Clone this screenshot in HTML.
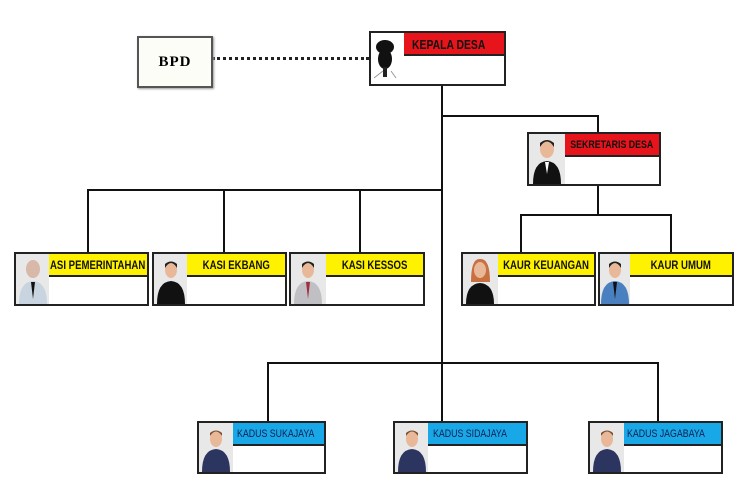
<!DOCTYPE html>
<html><head><meta charset="utf-8"><style>
body{margin:0;width:750px;height:500px;background:#fff;position:relative;overflow:hidden;font-family:"Liberation Sans",sans-serif}
.l{position:absolute;background:#111}
.b{position:absolute;border:2px solid #222;background:#fff;box-sizing:border-box}
.h{position:absolute;top:0;right:0;height:23px;border-bottom:2px solid #222;font-weight:bold;font-size:11px;line-height:23px;white-space:nowrap;overflow:hidden;box-sizing:border-box}
.h span{display:block;width:125%;margin-left:-12.5%;text-align:center;transform:scaleX(0.8);transform-origin:center}
.h.lft span{margin-left:0;text-align:left;transform-origin:left}
.a{position:absolute;left:0;top:0;bottom:0;background:#e8e8e8}
.a svg{display:block}
</style></head><body>
<div class="l" style="left:441px;top:85px;width:2px;height:336px"></div>
<div class="l" style="left:442px;top:115px;width:157px;height:2px"></div>
<div class="l" style="left:597px;top:115px;width:2px;height:18px"></div>
<div class="l" style="left:597px;top:185px;width:2px;height:30px"></div>
<div class="l" style="left:520px;top:214px;width:152px;height:2px"></div>
<div class="l" style="left:520px;top:214px;width:2px;height:39px"></div>
<div class="l" style="left:670px;top:214px;width:2px;height:39px"></div>
<div class="l" style="left:87px;top:189px;width:356px;height:2px"></div>
<div class="l" style="left:87px;top:189px;width:2px;height:64px"></div>
<div class="l" style="left:223px;top:189px;width:2px;height:64px"></div>
<div class="l" style="left:359px;top:189px;width:2px;height:64px"></div>
<div class="l" style="left:267px;top:362px;width:392px;height:2px"></div>
<div class="l" style="left:267px;top:362px;width:2px;height:59px"></div>
<div class="l" style="left:657px;top:362px;width:2px;height:59px"></div>
<div style="position:absolute;left:212px;top:57px;width:157px;border-top:3px dotted #222"></div>
<div class="b" style="left:137px;top:36px;width:76px;height:52px;border-color:#555;background:#fdfdf8;box-shadow:1px 1px 2px #999;font-family:'Liberation Serif',serif;font-weight:bold;font-size:15px;text-align:center;line-height:48px;letter-spacing:1px">BPD</div>

<div class="b" style="left:369px;top:31px;width:137px;height:55px">
<div class="a" style="width:33px;background:#fff"><svg width="33" height="51"><ellipse cx="14" cy="14" rx="9" ry="7" fill="#111"/><ellipse cx="14" cy="26" rx="7" ry="10" fill="#111"/><rect x="12" y="34" width="4" height="10" fill="#222"/><path d="M3 45 L12 38 M25 45 L20 38" stroke="#999"/></svg></div>
<div class="h lft" style="left:33px;background:#e8141b;color:#111;padding-left:8px;font-size:13px"><span>KEPALA DESA</span></div>
</div>
<div class="b" style="left:527px;top:132px;width:134px;height:54px">
<div class="a" style="width:36px"><svg width="36" height="50"><ellipse cx="18" cy="15" rx="7" ry="9" fill="#e8b898"/><path d="M11 13 Q18 2 25 13 L25 9 Q18 3 11 9Z" fill="#222"/><path d="M4 50 Q4 28 18 27 Q32 28 32 50Z" fill="#111"/><path d="M16 28 L18 40 L20 28Z" fill="#fff"/></svg></div>
<div class="h" style="left:36px;background:#e8141b;color:#111;font-size:11px"><span>SEKRETARIS DESA</span></div>
</div>

<div class="b" style="left:14px;top:252px;width:135px;height:54px">
<div class="a" style="width:33px"><svg width="33" height="50"><ellipse cx="17" cy="15" rx="7" ry="9" fill="#d8b8a8"/><path d="M3 50 Q3 28 17 27 Q31 28 31 50Z" fill="#c8d4e0"/><path d="M15 28 L17 45 L19 28Z" fill="#111"/></svg></div>
<div class="h lft" style="left:33px;background:#fff200;color:#111;font-size:12px;padding-left:1px"><span>ASI PEMERINTAHAN</span></div>
</div>
<div class="b" style="left:152px;top:252px;width:135px;height:54px">
<div class="a" style="width:33px"><svg width="33" height="50"><ellipse cx="17" cy="16" rx="6" ry="8" fill="#e8b898"/><path d="M11 14 Q17 4 23 14 L23 10 Q17 5 11 10Z" fill="#222"/><path d="M3 50 Q3 28 17 27 Q31 28 31 50Z" fill="#111"/></svg></div>
<div class="h" style="left:33px;background:#fff200;color:#111;font-size:12px"><span>KASI EKBANG</span></div>
</div>
<div class="b" style="left:289px;top:252px;width:136px;height:54px">
<div class="a" style="width:35px"><svg width="35" height="50"><ellipse cx="17" cy="16" rx="6" ry="8" fill="#e8b898"/><path d="M11 14 Q17 4 23 14 L23 10 Q17 5 11 10Z" fill="#222"/><path d="M3 50 Q3 28 17 27 Q31 28 31 50Z" fill="#c0c0c4"/><path d="M15 28 L17 45 L19 28Z" fill="#a03040"/></svg></div>
<div class="h" style="left:35px;background:#fff200;color:#111;font-size:12px"><span>KASI KESSOS</span></div>
</div>
<div class="b" style="left:461px;top:252px;width:135px;height:54px">
<div class="a" style="width:35px"><svg width="35" height="50"><path d="M8 28 Q8 4 17 5 Q27 4 27 28Z" fill="#c87040"/><ellipse cx="17" cy="16" rx="6" ry="8" fill="#e8b898"/><path d="M3 50 Q3 30 17 29 Q31 30 31 50Z" fill="#111"/></svg></div>
<div class="h" style="left:35px;background:#fff200;color:#111;font-size:12px"><span>KAUR KEUANGAN</span></div>
</div>
<div class="b" style="left:598px;top:252px;width:136px;height:54px">
<div class="a" style="width:30px"><svg width="30" height="50"><ellipse cx="15" cy="16" rx="6" ry="8" fill="#e8b898"/><path d="M9 14 Q15 4 21 14 L21 10 Q15 5 9 10Z" fill="#222"/><path d="M1 50 Q1 28 15 27 Q29 28 29 50Z" fill="#4a80c0"/><path d="M13 28 L15 45 L17 28Z" fill="#111"/></svg></div>
<div class="h" style="left:30px;background:#fff200;color:#111;font-size:12px"><span>KAUR UMUM</span></div>
</div>
<div class="b" style="left:197px;top:421px;width:129px;height:53px">
<div class="a" style="width:34px"><svg width="34" height="49"><ellipse cx="17" cy="16" rx="6" ry="8" fill="#e8b898"/><path d="M11 13 Q17 4 23 13 L23 10 Q17 5 11 10Z" fill="#7a5030"/><path d="M3 49 Q3 27 17 26 Q31 27 31 49Z" fill="#2c3560"/></svg></div>
<div class="h lft" style="left:34px;background:#18a8e8;color:#102050;font-weight:normal;font-size:11px;padding-left:4px"><span>KADUS SUKAJAYA</span></div>
</div>
<div class="b" style="left:393px;top:421px;width:135px;height:53px">
<div class="a" style="width:33px"><svg width="33" height="49"><ellipse cx="17" cy="16" rx="6" ry="8" fill="#e8b898"/><path d="M11 13 Q17 4 23 13 L23 10 Q17 5 11 10Z" fill="#7a5030"/><path d="M3 49 Q3 27 17 26 Q31 27 31 49Z" fill="#2c3560"/></svg></div>
<div class="h lft" style="left:33px;background:#18a8e8;color:#102050;font-weight:normal;font-size:11px;padding-left:5px"><span>KADUS SIDAJAYA</span></div>
</div>
<div class="b" style="left:588px;top:421px;width:135px;height:53px">
<div class="a" style="width:34px"><svg width="34" height="49"><ellipse cx="17" cy="16" rx="6" ry="8" fill="#e8b898"/><path d="M11 13 Q17 4 23 13 L23 10 Q17 5 11 10Z" fill="#7a5030"/><path d="M3 49 Q3 27 17 26 Q31 27 31 49Z" fill="#2c3560"/></svg></div>
<div class="h lft" style="left:34px;background:#18a8e8;color:#102050;font-weight:normal;font-size:11px;padding-left:3px"><span>KADUS JAGABAYA</span></div>
</div>
</body></html>
